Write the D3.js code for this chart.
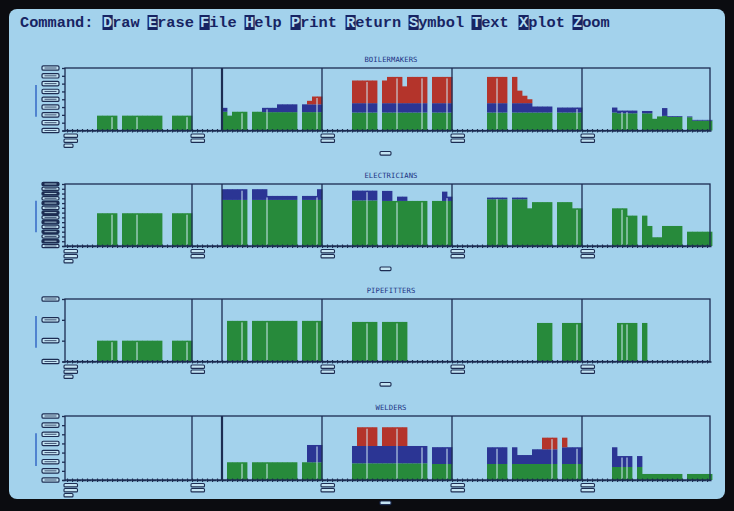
<!DOCTYPE html>
<html><head><meta charset="utf-8">
<script src="https://cdn.jsdelivr.net/npm/d3@7"></script>
<style>html,body{margin:0;padding:0;background:#0b0c10;} svg{display:block}</style>
</head><body>
<svg id="c" width="734" height="511"></svg>
<script>
// ---------- DATA ----------
const crafts = ["BOILERMAKERS", "ELECTRICIANS", "PIPEFITTERS", "WELDERS"];
const yTickMax = [8, 13, 3, 7];
// runs of periods: [firstPeriod, lastPeriod, green, blue, red]
const boilermakers = [
  [7,10,1.9,0,0],[12,19,1.9,0,0],[22,25,1.9,0,0],
  [32,32,2.4,0.5,0],[33,33,1.9,0,0],[34,36,2.4,0,0],[38,39,2.4,0,0],
  [40,42,2.35,0.55,0],[43,46,2.35,1.0,0],[48,48,2.35,1.0,0],[49,49,2.35,1.0,0.45],[50,51,2.35,1.0,1.0],
  [58,62,2.3,1.2,2.9],[64,64,2.3,1.2,2.9],[65,67,2.3,1.2,3.36],[68,68,2.3,1.2,2.15],
  [69,72,2.3,1.2,3.36],[74,77,2.3,1.2,3.36],
  [85,88,2.3,1.2,3.36],[90,90,2.3,1.2,3.36],[91,91,2.3,1.2,1.6],[92,92,2.3,1.2,0.95],
  [93,93,2.3,1.2,0.5],[94,97,2.3,0.77,0],[99,103,2.3,0.64,0],
  [110,110,2.3,0.64,0],[111,114,2.2,0.35,0],[116,117,2.2,0.3,0],[118,118,1.5,0,0],
  [119,119,1.8,0,0],[120,120,1.87,1.0,0],[121,123,1.75,0.1,0],[125,125,1.7,0.1,0],[126,129,1.26,0.1,0]
];
const electricians = [
  [7,10,6.87,0,0],[12,19,6.87,0,0],[22,25,6.87,0,0],
  [32,36,9.66,2.25,0],[38,40,9.66,2.25,0],[41,46,9.66,0.84,0],[48,50,9.66,0.84,0],[51,51,9.66,2.25,0],
  [58,62,9.56,2.05,0],[64,65,9.45,2.1,0],[66,66,9.45,0,0],[67,68,9.45,0.9,0],[69,72,9.45,0,0],
  [74,75,9.45,0,0],[76,76,9.45,1.95,0],[77,77,9.45,0.9,0],
  [85,88,9.8,0.35,0],[90,92,9.8,0.35,0],[93,93,7.9,0,0],[94,97,9.2,0,0],[99,101,9.2,0,0],[102,103,7.9,0,0],
  [110,112,7.9,0,0],[113,114,6.37,0,0],[116,116,6.37,0,0],[117,117,4.2,0,0],[118,119,1.83,0,0],
  [120,123,4.2,0,0],[125,129,3.0,0,0]
];
const pipefitters = [
  [7,10,1.0,0,0],[12,19,1.0,0,0],[22,25,1.0,0,0],
  [33,36,1.95,0,0],[38,46,1.95,0,0],[48,51,1.95,0,0],
  [58,62,1.9,0,0],[64,68,1.9,0,0],
  [95,97,1.85,0,0],[100,103,1.85,0,0],
  [111,114,1.85,0,0],[116,116,1.85,0,0]
];
const welders = [
  [33,36,1.94,0,0],[38,46,1.94,0,0],[48,48,1.94,0,0],[49,51,1.94,1.89,0],
  [58,58,1.83,1.89,0],[59,62,1.83,1.89,2.05],[63,63,1.83,1.89,0],[64,68,1.83,1.89,2.05],
  [69,72,1.83,1.89,0],[74,77,1.75,1.84,0],
  [85,88,1.75,1.83,0],[90,90,1.75,1.83,0],[91,93,1.75,0.98,0],[94,95,1.75,1.61,0],
  [96,98,1.75,1.61,1.27],[100,100,1.75,1.83,1.05],[101,103,1.75,1.83,0],
  [110,110,1.42,2.16,0],[111,113,1.42,1.2,0],[115,115,1.42,1.2,0],[116,123,0.66,0,0],[125,129,0.66,0,0]
];
const series = [boilermakers, electricians, pipefitters, welders];
const dividers = [26, 32, 52, 78, 104];
const xLabelAt = [0.6, 26, 52, 78, 104];
const separators = [10,15,25,36,41,51,61,67,72,77,87,98,103,112,113];
const menuLabel = "Command:";
const commands = ["Draw","Erase","File","Help","Print","Return","Symbol","Text","Xplot","Zoom"];

// ---------- STYLE / LAYOUT ----------
const C = {screen:"#a3d2ec", ink:"#1c2c52", green:"#278a3b", blue:"#2b3594", red:"#b4342b",
           sep:"#cfe9f4", title:"#1d3384", ylab:"#2d62c4", menu:"#172463"};
const rowTop = [68, 184, 299, 416];
const rowBase = [130.5, 246, 361.5, 480];
const cmdX = [103,148,200,245,291,346,409,472,519,573];

const svg = d3.select("#c");
svg.append("rect").attr("width",734).attr("height",511).attr("fill","#0b0c10");
svg.append("rect").attr("x",9).attr("y",9).attr("width",716).attr("height",490).attr("rx",8).attr("fill",C.screen);

// menu
const menu = svg.append("g").attr("font-family","Liberation Mono, DejaVu Sans Mono, monospace")
  .attr("font-size",15.3).attr("font-weight","bold");
menu.append("text").attr("x",20).attr("y",27).attr("fill",C.menu).text(menuLabel);
commands.forEach((c,k)=>{
  const cw = 9.2;
  menu.append("rect").attr("x",cmdX[k]-0.5).attr("y",15).attr("width",cw+1).attr("height",15).attr("fill",C.menu);
  menu.append("text").attr("x",cmdX[k]).attr("y",27).attr("fill","#b5dcf0").text(c[0]);
  menu.append("text").attr("x",cmdX[k]+cw).attr("y",27).attr("fill",C.menu).text(c.slice(1));
});

const x = d3.scaleLinear().domain([0,130]).range([62,712]);

series.forEach((runs, r) => {
  const g = svg.append("g");
  const y = d3.scaleLinear().domain([0, yTickMax[r]]).range([rowBase[r], rowTop[r]]);
  const bars = [];
  runs.forEach(([a,b,gv,bv,rv]) => { for (let i=a;i<=b;i++) bars.push({i, g:gv, b:bv, r:rv}); });
  const byI = new Map(bars.map(d=>[d.i,d]));
  const bw = d => x(d.i+1)-x(d.i)+0.4;

  g.selectAll(".gr").data(bars).join("rect")
    .attr("x",d=>x(d.i)).attr("width",bw)
    .attr("y",d=>y(d.g)).attr("height",d=>y(0)-y(d.g)).attr("fill",C.green);
  g.selectAll(".bl").data(bars.filter(d=>d.b>0)).join("rect")
    .attr("x",d=>x(d.i)).attr("width",bw)
    .attr("y",d=>y(d.g+d.b)).attr("height",d=>y(d.g)-y(d.g+d.b)).attr("fill",C.blue);
  g.selectAll(".rd").data(bars.filter(d=>d.r>0)).join("rect")
    .attr("x",d=>x(d.i)).attr("width",bw)
    .attr("y",d=>y(d.g+d.b+d.r)).attr("height",d=>y(d.g+d.b)-y(d.g+d.b+d.r)).attr("fill",C.red);

  // thin light separators between some bars
  separators.forEach(s => {
    const a = byI.get(s-1), b = byI.get(s);
    if (!a || !b) return;
    const h = Math.min(a.g+a.b+a.r, b.g+b.b+b.r);
    g.append("line").attr("x1",x(s)).attr("x2",x(s)).attr("y1",y(0)-1).attr("y2",y(h)+1.5)
      .attr("stroke",C.sep).attr("stroke-width",1);
  });

  // frame
  g.append("rect").attr("x",x(0.6)).attr("y",rowTop[r]).attr("width",x(129.6)-x(0.6))
    .attr("height",rowBase[r]-rowTop[r]).attr("fill","none").attr("stroke",C.ink).attr("stroke-width",1.3);
  dividers.forEach(dv => {
    g.append("line").attr("x1",x(dv)).attr("x2",x(dv)).attr("y1",rowTop[r]).attr("y2",rowBase[r])
      .attr("stroke",C.ink).attr("stroke-width",(dv===32 && (r===0||r===3))?2.2:1.3);
  });

  // bottom axis (period ticks)
  g.append("g").attr("transform",`translate(0,${rowBase[r]})`)
    .call(d3.axisBottom(x).tickValues(d3.range(1,130)).tickSize(2).tickSizeOuter(0).tickFormat(""))
    .call(a=>{a.select(".domain").attr("stroke",C.ink).attr("stroke-width",1.6).attr("stroke-dasharray","4,1");
             a.selectAll(".tick line").attr("stroke",C.ink).attr("stroke-width",1.2);});
  g.append("g").attr("transform",`translate(0,${rowBase[r]})`)
    .call(d3.axisTop(x).tickValues(d3.range(1,130)).tickSize(1.5).tickFormat(""))
    .call(a=>{a.select(".domain").remove(); a.selectAll(".tick line").attr("stroke",C.ink).attr("stroke-width",1.2);});

  // left axis with box-shaped (illegible) tick labels
  const ticks = d3.range(0, yTickMax[r]+1);
  g.append("g").attr("transform",`translate(${x(0.6)},0)`)
    .call(d3.axisLeft(y).tickValues(ticks).tickSize(3).tickFormat(""))
    .call(a=>{a.select(".domain").remove(); a.selectAll(".tick line").attr("stroke",C.ink).attr("stroke-width",1.3);});
  const bh = r===1 ? 3.4 : 4.4;
  ticks.forEach((v,k) => {
    g.append("rect").attr("x",42).attr("y",y(v)-bh/2).attr("width",17).attr("height",bh).attr("rx",1.3)
      .attr("fill", (r===1 && k%2===1) ? C.ink : "#c4e4f3").attr("stroke",C.ink).attr("stroke-width",1.2);
    g.append("line").attr("x1",44.5).attr("x2",56.5).attr("y1",y(v)).attr("y2",y(v))
      .attr("stroke", (r===1 && k%2===1) ? "#c4e4f3" : C.ink).attr("stroke-width",0.8);
  });
  // y-axis title rendered as a line
  const H = rowBase[r]-rowTop[r];
  g.append("line").attr("x1",36).attr("x2",36).attr("y1",rowTop[r]+H*0.27).attr("y2",rowTop[r]+H*0.78)
    .attr("stroke",C.ylab).attr("stroke-width",1.4);

  // x-axis label boxes
  xLabelAt.forEach((p,k) => {
    const n = k===0 ? 3 : 2;
    for (let j=0;j<n;j++) {
      const w = (k===0 && j===2) ? 9 : 13.5;
      g.append("rect").attr("x",x(p)-1).attr("y",rowBase[r]+3.5+j*5).attr("width",w).attr("height",3.4)
        .attr("rx",1).attr("fill","#c4e4f3").attr("stroke",C.ink).attr("stroke-width",1.1);
    }
  });
  // x-axis title box
  g.append("rect").attr("x",380).attr("y",rowBase[r]+21).attr("width",11).attr("height",3.6).attr("rx",1)
    .attr("fill","#c4e4f3").attr("stroke",C.ink).attr("stroke-width",1.1);

  // panel title
  g.append("text").attr("x",391).attr("y",rowTop[r]-6).attr("text-anchor","middle")
    .attr("font-family","DejaVu Sans Mono, monospace").attr("font-size",7.2).attr("fill",C.title)
    .attr("letter-spacing",0.1).text(crafts[r]);
});
</script>
</body></html>
